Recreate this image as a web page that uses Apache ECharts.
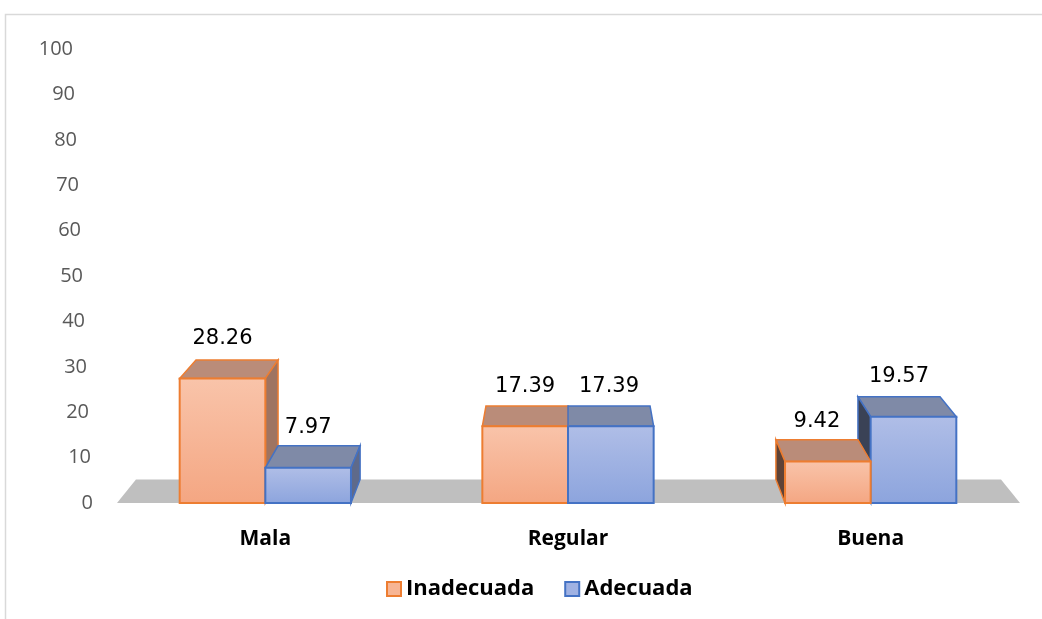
<!DOCTYPE html>
<html>
<head>
<meta charset="utf-8">
<script src="https://cdn.jsdelivr.net/npm/echarts@6/dist/echarts.min.js"></script>
<style>
  html, body { margin: 0; padding: 0; background: #fff; }
  #chart { width: 1042px; height: 619px; }
</style>
</head>
<body>
<div id="chart"></div>
<script>
// categorías y valores (%)
const categories = ['Mala', 'Regular', 'Buena'];
const seriesNames = ['Inadecuada', 'Adecuada'];
const inadecuada = [28.26, 17.39, 9.42];
const adecuada = [7.97, 17.39, 19.57];
const yTicks = [0, 10, 20, 30, 40, 50, 60, 70, 80, 90, 100];

// perspectiva de las barras 3D
const DEPTH = 0.958;
const VY = -58;

const palette = [
  { top: '#F9C4AA', bottom: '#F4A682', lid: '#BA8C79', right: '#9E7462', left: '#5E4236', line: '#ED7D31' },
  { top: '#B0BEE7', bottom: '#8CA4DD', lid: '#7F8AA7', right: '#5F6A8A', left: '#3A4256', line: '#4472C4' },
];

const chart = echarts.init(document.getElementById('chart'));

const makeBarRenderer = (slot) => (params, api) => {
  const ci = api.value(0);
  const v = api.value(1);
  const base = api.coord([ci, 0]);
  const top = api.coord([ci, v]);
  const band = api.size([1, 0])[0];
  const bw = band * 0.283;
  const cs = params.coordSys;
  const cx = cs.x + cs.width / 2;
  const x0 = base[0] + (slot === 0 ? -bw : 0);
  const x1 = x0 + bw;
  const yb = base[1];
  const yt = top[1];
  const back = (x, y) => [cx + (x - cx) * DEPTH, VY + (y - VY) * DEPTH];
  const c = palette[slot];

  // orden de pintado: de fuera hacia el punto de fuga
  const centre = (x0 + x1) / 2;
  const order = centre < cx ? ci * 10 + slot : ci * 10 + (1 - slot);
  const z = 10 + order * 5;

  const children = [];
  children.push({
    type: 'polygon',
    z2: z,
    shape: { points: [[x0, yt], [x1, yt], back(x1, yt), back(x0, yt)] },
    style: { fill: c.lid, stroke: c.line, lineWidth: 1.5 },
  });
  if (x1 < cx) {
    children.push({
      type: 'polygon',
      z2: z + 1,
      shape: { points: [[x1, yt], [x1, yb], back(x1, yb), back(x1, yt)] },
      style: { fill: c.right, stroke: c.line, lineWidth: 1.5 },
    });
  } else if (x0 > cx) {
    children.push({
      type: 'polygon',
      z2: z + 1,
      shape: { points: [[x0, yt], [x0, yb], back(x0, yb), back(x0, yt)] },
      style: { fill: c.left, stroke: c.line, lineWidth: 1.5 },
    });
  }
  children.push({
    type: 'rect',
    z2: z + 2,
    shape: { x: x0, y: yt, width: bw, height: yb - yt },
    style: {
      fill: new echarts.graphic.LinearGradient(0, 0, 0, 1, [
        { offset: 0, color: c.top },
        { offset: 1, color: c.bottom },
      ]),
      stroke: c.line,
      lineWidth: 2,
    },
  });
  const frontC = centre;
  const backC = back(centre, yt)[0];
  children.push({
    type: 'text',
    z2: 200,
    style: {
      text: v.toFixed(2),
      x: Math.min(frontC, backC),
      y: yt - 40,
      align: 'center',
      verticalAlign: 'middle',
      font: '21px "DejaVu Sans"',
      fill: '#000',
    },
  });
  return { type: 'group', children };
};

const renderFloor = (params, api) => {
  const band = api.size([1, 0])[0];
  const a = api.coord([0, 0]);
  const b = api.coord([categories.length - 1, 0]);
  const cs = params.coordSys;
  const cx = cs.x + cs.width / 2;
  const back = (x, y) => [cx + (x - cx) * DEPTH, VY + (y - VY) * DEPTH];
  const xl = a[0] - band / 2 + 3;
  const xr = b[0] + band / 2 - 2;
  const y = a[1];
  return {
    type: 'polygon',
    z2: 0,
    shape: { points: [[xl, y], [xr, y], back(xr, y), back(xl, y)] },
    style: { fill: '#BFBFBF' },
  };
};

const labelRich = {};
yTicks.forEach((t) => {
  labelRich['p' + t] = {
    fontFamily: 'Open Sans',
    fontSize: 20,
    color: '#595959',
    padding: [0, Math.round(t * 0.2), 0, 0],
  };
});

const option = {
  animation: false,
  graphic: [
    {
      type: 'rect',
      shape: { x: 5.5, y: 14.5, width: 1200, height: 800 },
      style: { fill: 'none', stroke: '#D9D9D9', lineWidth: 1.5 },
      silent: true,
    },
  ],
  legend: {
    data: seriesNames,
    top: 573,
    left: 381,
    icon: 'rect',
    itemWidth: 14,
    itemHeight: 14,
    itemGap: 30,
    textStyle: { fontFamily: 'Open Sans', fontSize: 22, fontWeight: 'bold', color: '#000' },
  },
  grid: { left: 114, right: 20, top: 49, bottom: 116 },
  xAxis: {
    type: 'category',
    data: categories,
    axisLine: { show: false },
    axisTick: { show: false },
    axisLabel: {
      margin: 26,
      fontFamily: 'Open Sans',
      fontSize: 21,
      fontWeight: 'bold',
      color: '#000',
    },
  },
  yAxis: [
    {
      type: 'value',
      min: 0,
      max: 100,
      interval: 10,
      splitLine: { show: false },
      axisLine: { show: false },
      axisTick: { show: false },
      axisLabel: {
        margin: 21,
        formatter: (val) => '{p' + val + '|' + val + '}',
        rich: labelRich,
      },
    },
    {
      type: 'value',
      min: 0,
      max: 103,
      show: false,
    },
  ],
  series: [
    {
      type: 'custom',
      name: 'floor',
      z: 1,
      silent: true,
      yAxisIndex: 1,
      renderItem: renderFloor,
      data: [[0, 0]],
      encode: { x: 0, y: 1 },
    },
    {
      type: 'custom',
      name: seriesNames[0],
      z: 2,
      yAxisIndex: 1,
      renderItem: makeBarRenderer(0),
      itemStyle: { color: '#F7B594', borderColor: '#ED7D31', borderWidth: 1.5 },
      data: inadecuada.map((v, i) => [i, v]),
      encode: { x: 0, y: 1 },
    },
    {
      type: 'custom',
      name: seriesNames[1],
      z: 2,
      yAxisIndex: 1,
      renderItem: makeBarRenderer(1),
      itemStyle: { color: '#A0B2E3', borderColor: '#4472C4', borderWidth: 1.5 },
      data: adecuada.map((v, i) => [i, v]),
      encode: { x: 0, y: 1 },
    },
  ],
};

chart.setOption(option);
</script>
</body>
</html>
